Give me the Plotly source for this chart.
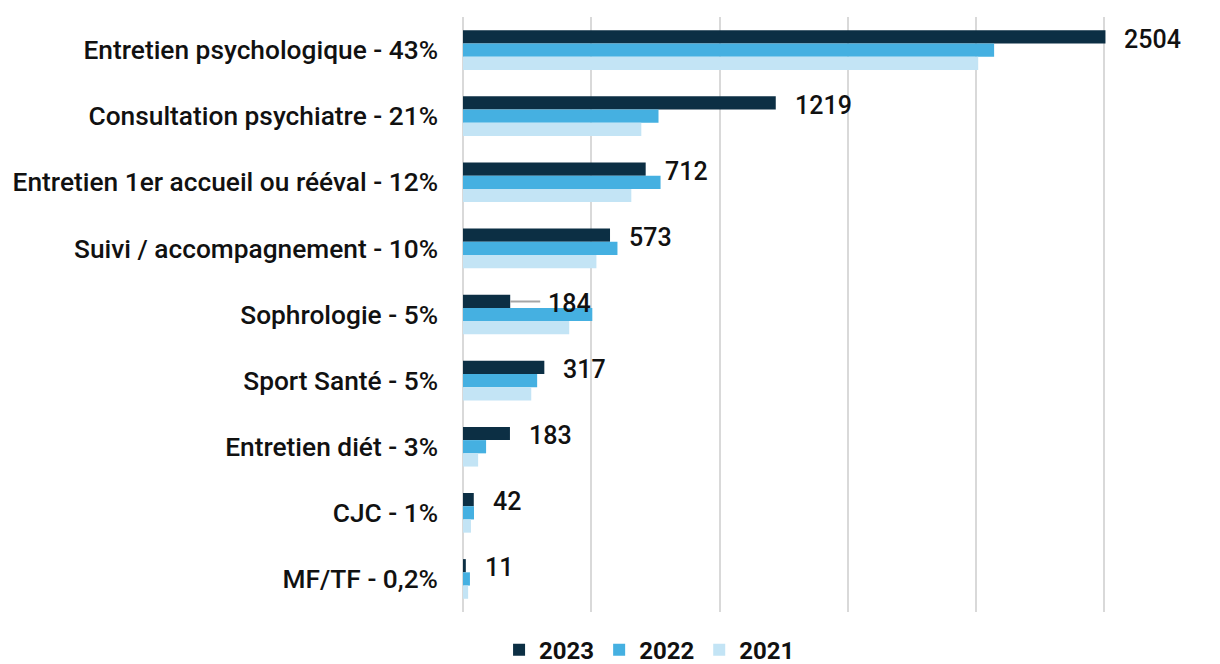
import plotly.graph_objects as go

categories = [
    "Entretien psychologique - 43%",
    "Consultation psychiatre - 21%",
    "Entretien 1er accueil ou rééval - 12%",
    "Suivi / accompagnement - 10%",
    "Sophrologie - 5%",
    "Sport Santé - 5%",
    "Entretien diét - 3%",
    "CJC - 1%",
    "MF/TF - 0,2%",
]
values_2023 = [2504, 1219, 712, 573, 184, 317, 183, 42, 11]
values_2022 = [2070, 762, 770, 602, 504, 289, 90, 43, 27]
values_2021 = [2008, 695, 656, 520, 414, 266, 59, 31, 20]
series_names = ["2023", "2022", "2021"]

colors = ["#0c2f44", "#45b0e1", "#c3e4f5"]
FONT = "Roboto"

fig = go.Figure()
for name, vals, col in zip(series_names, [values_2023, values_2022, values_2021], colors):
    fig.add_trace(go.Bar(
        y=categories, x=vals, name=name, orientation="h",
        marker=dict(color=col, line=dict(width=0)),
    ))

# data labels for 2023
for i, (cat, v) in enumerate(zip(categories, values_2023)):
    shift = 17
    if cat.startswith("Sophrologie"):
        shift = 36
        fig.add_shape(type="line", xref="x", yref="y",
                      xsizemode="pixel", xanchor=v, x0=0, x1=30,
                      ysizemode="pixel", yanchor=i, y0=13, y1=13,
                      line=dict(color="#a6a6a6", width=2))
    fig.add_annotation(x=v, y=cat, text=str(v), showarrow=False,
                       xanchor="left", yanchor="middle", xshift=shift, yshift=11,
                       font=dict(family=FONT, size=25, color="#111111", weight=500))

fig.update_layout(
    width=1212, height=656,
    margin=dict(l=455, r=113, t=9, b=52, autoexpand=False),
    paper_bgcolor="white", plot_bgcolor="white",
    barmode="group", bargap=0.4, bargroupgap=0,
    font=dict(family=FONT, size=26, color="#111111"),
    showlegend=True,
    legend=dict(orientation="h", x=0.056, xanchor="left", y=-0.064, yanchor="middle",
                font=dict(family=FONT, size=24, color="#111111", weight="bold"),
                itemwidth=30, traceorder="normal"),
)
fig.update_xaxes(range=[0, 2510], showgrid=True, gridcolor="#d9d9d9", gridwidth=2,
                 tick0=0, dtick=500, showticklabels=False, zeroline=True, zerolinecolor="#d9d9d9",
                 zerolinewidth=2, showline=False, ticks="")
fig.update_yaxes(autorange="reversed", showgrid=False, ticks="", automargin=False,
                 ticklabelstandoff=24,
                 tickfont=dict(family=FONT, size=26.3, color="#111111", weight=500), showline=False)

fig.write_html("out.html")
